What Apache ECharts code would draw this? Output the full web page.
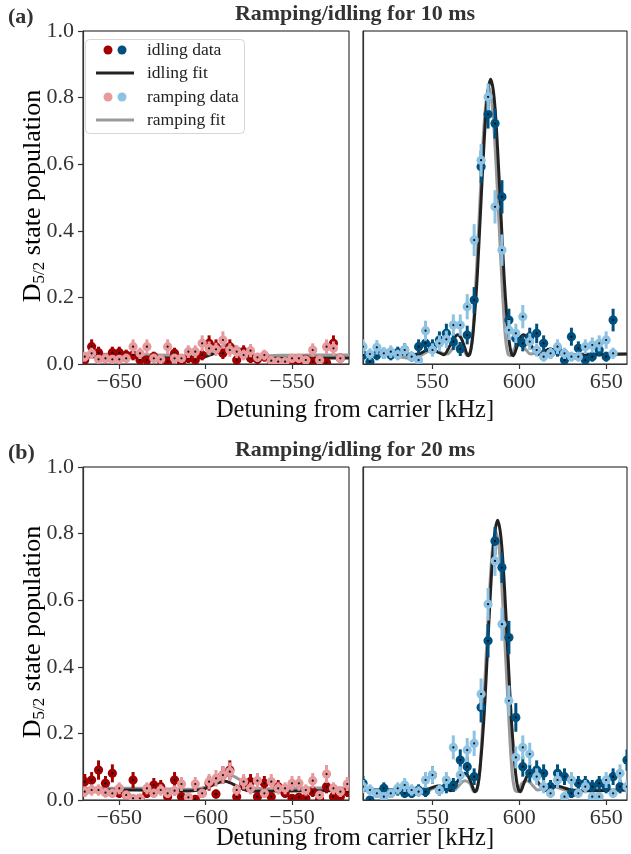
<!DOCTYPE html>
<html><head><meta charset="utf-8">
<script src="https://cdn.jsdelivr.net/npm/echarts@6/dist/echarts.min.js"></script>
<style>html,body{margin:0;padding:0;background:#fff}#c{width:631px;height:854px}</style>
</head><body><div id="c"></div>
<script>
// ---------- x grids ----------
const rightX = [510,514,518,522,526,530,534,538,542,546,550,554,558,562,566,570,574,578,582,586,590,594,598,602,606,610,614,618,622,626,630,634,638,642,646,650,654,658,662];
const leftX  = [-670,-666,-662,-658,-654,-650,-646,-642,-638,-634,-630,-626,-622,-618,-614,-610,-606,-602,-598,-594,-590,-586,-582,-578,-574,-570,-566,-562,-558,-554,-550,-546,-542,-538,-534,-530,-526,-522,-518];
const leftTicks = [-650,-600,-550];
const rightTicks = [550,600,650];

// ---------- (a) 10 ms, left (negative detuning) ----------
const aLeftX = leftX.slice(0,38);
const aLeftIdle = [0.012,0.052,0.034,0.017,0.034,0.034,0.027,0.027,0.012,0.012,0.022,0.012,0.007,0.032,0.007,0.017,0.012,0.027,0.062,0.052,0.032,0.052,0.012,0.037,0.017,0.014,0.022,0.007,0.007,0.002,0.012,0.007,0.014,0.007,0.007,0.004,0.062,0.017];
const aLeftIdleErr = [0.013,0.022,0.018,0.014,0.018,0.018,0.016,0.016,0.013,0.013,0.015,0.013,0.012,0.017,0.012,0.014,0.013,0.016,0.024,0.022,0.017,0.022,0.013,0.019,0.014,0.013,0.015,0.012,0.012,0.01,0.013,0.012,0.013,0.012,0.012,0.011,0.024,0.014];
const aLeftRamp = [0.022,0.032,0.014,0.017,0.014,0.014,0.017,0.052,0.032,0.052,0.017,0.014,0.052,0.017,0.017,0.037,0.037,0.062,0.047,0.044,0.072,0.042,0.037,0.027,0.04,0.02,0.027,0.01,0.007,0.007,0.017,0.017,0.012,0.042,0.012,0.052,0.047,0.017];
const aLeftRampErr = [0.015,0.017,0.013,0.014,0.013,0.013,0.014,0.022,0.017,0.022,0.014,0.013,0.022,0.014,0.014,0.019,0.019,0.024,0.021,0.02,0.026,0.02,0.019,0.016,0.02,0.014,0.016,0.012,0.012,0.012,0.014,0.014,0.013,0.02,0.013,0.022,0.021,0.014];

// ---------- (a) 10 ms, right ----------
const aRightX = rightX.slice(0,37);
const aRightIdle = [0.027,0.007,0.027,0.032,0.027,0.034,0.042,0.022,0.052,0.062,0.052,0.072,0.092,0.067,0.045,0.087,0.192,0.592,0.75,0.722,0.502,0.132,0.077,0.062,0.082,0.092,0.062,0.032,0.042,0.012,0.082,0.047,0.012,0.022,0.042,0.022,0.132];
const aRightIdleErr = [0.016,0.012,0.016,0.017,0.016,0.018,0.02,0.015,0.022,0.024,0.022,0.026,0.029,0.025,0.021,0.028,0.039,0.049,0.043,0.045,0.05,0.034,0.027,0.024,0.027,0.029,0.024,0.017,0.02,0.013,0.027,0.021,0.013,0.015,0.02,0.015,0.034];
const aRightRamp = [0.052,0.03,0.05,0.032,0.037,0.027,0.042,0.022,0.012,0.10,0.042,0.062,0.074,0.117,0.117,0.172,0.372,0.612,0.802,0.472,0.342,0.102,0.092,0.142,0.067,0.042,0.022,0.032,0.052,0.032,0.022,0.022,0.052,0.057,0.062,0.072,0.032];
const aRightRampErr = [0.022,0.017,0.022,0.017,0.019,0.016,0.02,0.015,0.013,0.03,0.02,0.024,0.026,0.032,0.032,0.038,0.048,0.049,0.04,0.05,0.047,0.03,0.029,0.035,0.025,0.02,0.015,0.017,0.022,0.017,0.015,0.015,0.022,0.023,0.024,0.026,0.017];

// ---------- (b) 20 ms, left ----------
const bLeftIdle = [0.055,0.06,0.09,0.05,0.08,0.02,0.015,0.06,0.005,0.02,0.045,0.04,0.01,0.06,0.01,0.005,0.002,0.02,0.05,0.018,0.075,0.09,0.01,0.05,0.055,0.01,0.05,0.01,0.04,0.02,0.005,0.008,0.005,0.025,0.002,0.04,0.01,0.01,0.025];
const bLeftIdleErr = [0.023,0.024,0.029,0.022,0.027,0.014,0.013,0.024,0.011,0.014,0.021,0.02,0.012,0.024,0.012,0.011,0.01,0.014,0.022,0.014,0.026,0.029,0.012,0.022,0.023,0.012,0.022,0.012,0.02,0.014,0.011,0.012,0.011,0.016,0.01,0.02,0.012,0.012,0.016];
const bLeftRamp = [0.025,0.03,0.03,0.022,0.02,0.035,0.015,0.005,0.005,0.035,0.02,0.03,0.02,0.028,0.048,0.008,0.048,0.02,0.055,0.065,0.075,0.085,0.03,0.055,0.035,0.058,0.02,0.055,0.035,0.035,0.05,0.05,0.03,0.058,0.015,0.078,0.035,0.025,0.048];
const bLeftRampErr = [0.016,0.017,0.017,0.015,0.014,0.018,0.013,0.011,0.011,0.018,0.014,0.017,0.014,0.016,0.021,0.012,0.021,0.014,0.023,0.025,0.026,0.028,0.017,0.023,0.018,0.023,0.014,0.023,0.018,0.018,0.022,0.022,0.017,0.023,0.013,0.027,0.018,0.016,0.021];

// ---------- (b) 20 ms, right ----------
const bRightIdle = [0.05,0.0,0.02,0.035,0.02,0.03,0.02,0.02,0.03,0.025,0.075,0.03,0.04,0.045,0.12,0.10,0.07,0.278,0.478,0.778,0.698,0.488,0.248,0.10,0.08,0.09,0.08,0.04,0.08,0.07,0.02,0.05,0.05,0.04,0.05,0.04,0.07,0.04,0.12];
const bRightIdleErr = [0.022,0.01,0.014,0.018,0.014,0.017,0.014,0.014,0.017,0.016,0.026,0.017,0.02,0.021,0.032,0.03,0.025,0.045,0.05,0.042,0.046,0.05,0.043,0.03,0.027,0.029,0.027,0.02,0.027,0.025,0.014,0.022,0.022,0.02,0.022,0.02,0.025,0.02,0.032];
const bRightRamp = [0.04,0.03,0.02,0.01,0.02,0.035,0.045,0.03,0.025,0.06,0.075,0.03,0.06,0.158,0.075,0.15,0.17,0.318,0.588,0.718,0.528,0.298,0.128,0.158,0.138,0.07,0.04,0.02,0.06,0.01,0.06,0.02,0.04,0.01,0.01,0.06,0.02,0.08,0.04];
const bRightRampErr = [0.02,0.017,0.014,0.012,0.014,0.018,0.021,0.017,0.016,0.024,0.026,0.017,0.024,0.036,0.026,0.036,0.038,0.047,0.049,0.045,0.05,0.046,0.033,0.036,0.034,0.025,0.02,0.014,0.024,0.012,0.024,0.014,0.02,0.012,0.012,0.024,0.014,0.027,0.02];

// ---------- fit curves ----------
const aFitIdleRX = [510,526,536,542,546,549.5,553.5,556.5,559.5,562.5,564.5,566.5,568.5,570.5,572,573.5,575.5,577.5,579.5,581.5,583.5,585.5,587.5,589.5,591.5,593.5,595,596.5,598.5,600.5,602.5,604.5,607.5,610.5,613.5,617.5,621,626,636,662];
const aFitIdleR  = [0.03,0.03,0.028,0.03,0.04,0.045,0.035,0.028,0.05,0.078,0.088,0.078,0.05,0.025,0.04,0.10,0.24,0.44,0.645,0.80,0.855,0.80,0.645,0.44,0.24,0.10,0.04,0.025,0.05,0.078,0.088,0.078,0.05,0.028,0.035,0.045,0.04,0.03,0.028,0.03];
const aFitRampRX = [510,521,531,537,543,549,554,558.5,561.5,564.5,567.5,570,571.5,573,574.5,576.5,578.5,580.5,582.5,584.5,586.5,588.5,590.5,592,593.5,595,597.5,600.5,603.5,606.5,610.5,616,622,628,636,662];
const aFitRampR  = [0.03,0.03,0.022,0.018,0.025,0.04,0.035,0.03,0.045,0.06,0.05,0.025,0.03,0.08,0.20,0.40,0.61,0.77,0.83,0.77,0.61,0.40,0.20,0.08,0.03,0.025,0.05,0.06,0.045,0.03,0.035,0.04,0.03,0.025,0.03,0.03];
const bFitIdleRX = [510,530,540,546,550,553.5,557.5,560.5,563.5,566.5,568.5,570.5,572.5,574.5,576,577.5,579.5,581.5,583.5,585.5,587.5,589.5,591.5,593.5,595.5,597.5,599,600.5,602.5,604.5,606.5,608.5,611.5,614.5,617.5,621.5,625,630,640,662];
const bFitIdleR  = [0.03,0.03,0.028,0.03,0.038,0.042,0.034,0.028,0.048,0.072,0.08,0.072,0.048,0.025,0.04,0.10,0.235,0.43,0.635,0.785,0.84,0.785,0.635,0.43,0.235,0.10,0.04,0.025,0.048,0.072,0.08,0.072,0.048,0.028,0.034,0.042,0.038,0.03,0.028,0.03];
const bFitRampRX = [510,525,535,541,547,553,558,562.5,565.5,568.5,571.5,574,575.5,577,578.5,580.5,582.5,584.5,586.5,588.5,590.5,592.5,594.5,596,597.5,599,601.5,604.5,607.5,610.5,614.5,620,626,632,640,662];
const bFitRampR  = [0.03,0.03,0.022,0.018,0.025,0.04,0.035,0.03,0.045,0.058,0.05,0.025,0.03,0.075,0.19,0.39,0.59,0.75,0.805,0.75,0.59,0.39,0.19,0.075,0.03,0.025,0.05,0.058,0.045,0.03,0.035,0.04,0.03,0.025,0.03,0.03];
const fitIdleLX = [-671,-640,-620,-610,-604,-600,-596,-592,-589,-586,-582,-578,-574,-568,-560,-540,-517];
const aFitIdleL = [0.022,0.02,0.018,0.017,0.018,0.022,0.03,0.038,0.042,0.04,0.032,0.022,0.017,0.016,0.017,0.018,0.018];
const bFitIdleL = [0.03,0.03,0.028,0.027,0.03,0.035,0.045,0.053,0.056,0.052,0.042,0.032,0.027,0.026,0.027,0.028,0.028];
const fitRampLX = [-671,-640,-620,-608,-602,-598,-594,-590,-587,-584,-580,-576,-572,-566,-556,-540,-517];
const aFitRampL = [0.03,0.028,0.026,0.025,0.028,0.035,0.045,0.054,0.057,0.055,0.045,0.033,0.027,0.025,0.026,0.027,0.027];
const bFitRampL = [0.035,0.035,0.033,0.032,0.036,0.045,0.058,0.07,0.075,0.072,0.06,0.045,0.036,0.034,0.035,0.036,0.036];

// ---------- style ----------
const FONT = "'Liberation Serif','DejaVu Serif','Times New Roman',serif";
const C_IDLE_L = '#a00000', C_IDLE_R = '#00507f', C_RAMP_L = '#e8999c', C_RAMP_R = '#8cc2e3';
const C_FIT_I = '#222222', C_FIT_R = '#9a9a9a';

function pts(xs, ys, es) { return ys.map((y, i) => [xs[i], y, es[i]]); }
function pairs(xs, ys) { return ys.map((y, i) => [xs[i], y]); }

function errSeries(gi, data, color, z) {
  return {
    type: 'custom', xAxisIndex: gi, yAxisIndex: gi, clip: true, z: z, data: data,
    renderItem: function (params, api) {
      const x = api.value(0), y = api.value(1), e = api.value(2);
      const p = api.coord([x, y]);
      const lo = api.coord([x, y - e]);
      const hi = api.coord([x, y + e]);
      return { type: 'group', children: [
        { type: 'line', shape: { x1: p[0], y1: lo[1], x2: p[0], y2: hi[1] }, style: { stroke: color, lineWidth: 3 } },
        { type: 'circle', shape: { cx: p[0], cy: p[1], r: 4.6 }, style: { fill: color } },
        { type: 'circle', shape: { cx: p[0], cy: p[1], r: 1.1 }, style: { fill: '#111' } }
      ]};
    }
  };
}
function fitSeries(gi, data, color, z) {
  return { type: 'line', xAxisIndex: gi, yAxisIndex: gi, data: data, showSymbol: false, smooth: 0.35, clip: true, z: z,
    lineStyle: { color: color, width: 3 }, silent: true, animation: false };
}

function xAx(gi, min, max, ticks) {
  return { type: 'value', gridIndex: gi, min: min, max: max, position: 'bottom',
    axisLine: { show: true, onZero: false, lineStyle: { color: '#333', width: 1.2 } },
    axisTick: { show: true, length: 5, inside: false, customValues: ticks, lineStyle: { color: '#333', width: 1.2 } },
    axisLabel: { show: true, customValues: ticks, margin: 7, fontSize: 22, fontFamily: FONT, color: '#333',
      formatter: v => v < 0 ? '\u2212' + Math.abs(v) : String(v) },
    splitLine: { show: false } };
}
function yAx(gi, withLabels) {
  return { type: 'value', gridIndex: gi, min: 0, max: 1, interval: 0.2,
    axisLine: { show: true, onZero: false, lineStyle: { color: '#333', width: 1.2 } },
    axisTick: { show: withLabels, length: 5, lineStyle: { color: '#333', width: 1.2 } },
    axisLabel: { show: withLabels, margin: 9, fontSize: 22, fontFamily: FONT, color: '#333', formatter: v => v.toFixed(1) },
    splitLine: { show: false } };
}

const gridBase = { show: true, borderColor: '#111', borderWidth: 1, backgroundColor: 'transparent', containLabel: false };
const option = {
  animation: false,
  backgroundColor: '#fff',
  grid: [
    Object.assign({ left: 83, top: 31, width: 266, height: 333 }, gridBase),
    Object.assign({ left: 363, top: 31, width: 264, height: 333 }, gridBase),
    Object.assign({ left: 83, top: 467, width: 266, height: 333 }, gridBase),
    Object.assign({ left: 363, top: 467, width: 264, height: 333 }, gridBase)
  ],
  xAxis: [ xAx(0, -671, -517, leftTicks), xAx(1, 510, 662, rightTicks), xAx(2, -671, -517, leftTicks), xAx(3, 510, 662, rightTicks) ],
  yAxis: [ yAx(0, true), yAx(1, false), yAx(2, true), yAx(3, false) ],
  series: [
    fitSeries(0, pairs(fitRampLX, aFitRampL), C_FIT_R, 2),
    fitSeries(0, pairs(fitIdleLX, aFitIdleL), C_FIT_I, 3),
    errSeries(0, pts(aLeftX, aLeftIdle, aLeftIdleErr), C_IDLE_L, 4),
    errSeries(0, pts(aLeftX, aLeftRamp, aLeftRampErr), C_RAMP_L, 5),

    fitSeries(1, pairs(aFitRampRX, aFitRampR), C_FIT_R, 2),
    fitSeries(1, pairs(aFitIdleRX, aFitIdleR), C_FIT_I, 3),
    errSeries(1, pts(aRightX, aRightIdle, aRightIdleErr), C_IDLE_R, 4),
    errSeries(1, pts(aRightX, aRightRamp, aRightRampErr), C_RAMP_R, 5),

    fitSeries(2, pairs(fitRampLX, bFitRampL), C_FIT_R, 2),
    fitSeries(2, pairs(fitIdleLX, bFitIdleL), C_FIT_I, 3),
    errSeries(2, pts(leftX, bLeftIdle, bLeftIdleErr), C_IDLE_L, 4),
    errSeries(2, pts(leftX, bLeftRamp, bLeftRampErr), C_RAMP_L, 5),

    fitSeries(3, pairs(bFitRampRX, bFitRampR), C_FIT_R, 2),
    fitSeries(3, pairs(bFitIdleRX, bFitIdleR), C_FIT_I, 3),
    errSeries(3, pts(rightX, bRightIdle, bRightIdleErr), C_IDLE_R, 4),
    errSeries(3, pts(rightX, bRightRamp, bRightRampErr), C_RAMP_R, 5)
  ],
  graphic: []
};

const ylabRich = {
  d: { fontSize: 26, fontFamily: FONT, color: '#222', lineHeight: 32 },
  s: { fontSize: 17, fontFamily: FONT, color: '#222', lineHeight: 32, verticalAlign: 'bottom', padding: [0, 0, 1, 0] },
  t: { fontSize: 26, fontFamily: FONT, color: '#222', lineHeight: 32 }
};
function yLabel(cy) {
  return { type: 'text', x: 33, y: cy, rotation: Math.PI / 2, z: 10,
    style: { text: '{d|D}{s|5/2}{t| state population}', rich: ylabRich, align: 'center', verticalAlign: 'middle' } };
}
function txt(x, y, s, size, bold, align) {
  return { type: 'text', x: x, y: y, z: 10, style: { text: s, fontSize: size, fontFamily: FONT, fontWeight: bold ? 'bold' : 'normal',
    fill: bold ? '#333' : '#111', align: align || 'center', verticalAlign: 'middle' } };
}
option.graphic.push(
  txt(355, 14, 'Ramping/idling for 10 ms', 22, true),
  txt(355, 450, 'Ramping/idling for 20 ms', 22, true),
  txt(8, 17, '(a)', 22, true, 'left'),
  txt(8, 453, '(b)', 22, true, 'left'),
  txt(355, 411, 'Detuning from carrier [kHz]', 24.5, false),
  txt(355, 839, 'Detuning from carrier [kHz]', 24.5, false),
  yLabel(196), yLabel(632)
);
// legend box
option.graphic.push(
  { type: 'rect', shape: { x: 85.5, y: 39.5, width: 159, height: 94, r: 4 }, style: { fill: 'rgba(255,255,255,0.85)', stroke: '#d6d6d6', lineWidth: 1 }, z: 20 },
  { type: 'circle', shape: { cx: 108, cy: 50, r: 4.5 }, style: { fill: C_IDLE_L }, z: 21 },
  { type: 'circle', shape: { cx: 122, cy: 50, r: 4.5 }, style: { fill: C_IDLE_R }, z: 21 },
  { type: 'line', shape: { x1: 96, y1: 73, x2: 134, y2: 73 }, style: { stroke: C_FIT_I, lineWidth: 3 }, z: 21 },
  { type: 'circle', shape: { cx: 108, cy: 97, r: 4.5 }, style: { fill: C_RAMP_L }, z: 21 },
  { type: 'circle', shape: { cx: 122, cy: 97, r: 4.5 }, style: { fill: C_RAMP_R }, z: 21 },
  { type: 'line', shape: { x1: 96, y1: 120, x2: 134, y2: 120 }, style: { stroke: C_FIT_R, lineWidth: 3 }, z: 21 }
);
['idling data', 'idling fit', 'ramping data', 'ramping fit'].forEach((s, i) => {
  option.graphic.push({ type: 'text', x: 147, y: [50, 73, 97, 120][i], z: 21,
    style: { text: s, fontSize: 17.5, fontFamily: FONT, fill: '#222', align: 'left', verticalAlign: 'middle' } });
});

const chart = echarts.init(document.getElementById('c'), null, { renderer: 'canvas' });
chart.setOption(option);
</script></body></html>
